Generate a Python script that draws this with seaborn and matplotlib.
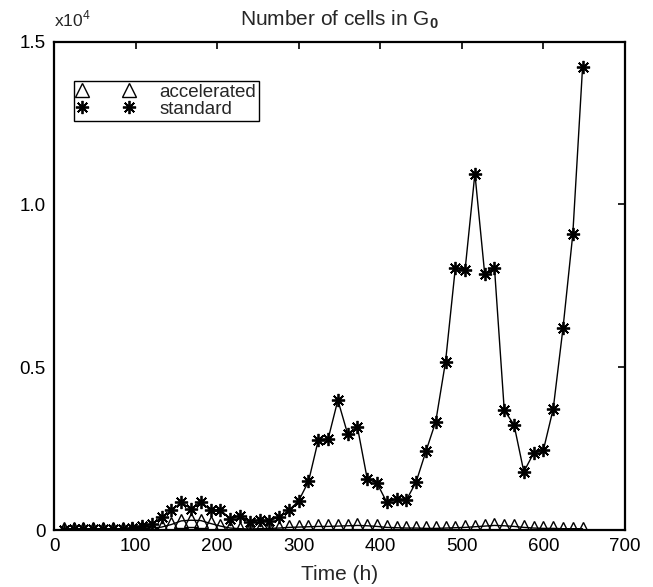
#!/usr/bin/env python3
"""Number of cells in G0 over time, accelerated vs standard schedule."""

import pandas as pd
import seaborn as sns
import matplotlib.pyplot as plt
from matplotlib.lines import Line2D
from matplotlib.ticker import FuncFormatter

# sampling times (h)
time_h = [12, 24, 36, 48, 60, 72, 84, 96, 108, 120,
          132, 144, 156, 168, 180, 192, 204, 216, 228, 240,
          252, 264, 276, 288, 300, 312, 324, 336, 348, 360,
          372, 384, 396, 408, 420, 432, 444, 456, 468, 480,
          492, 504, 516, 528, 540, 552, 564, 576, 588, 600,
          612, 624, 636, 648]

# number of cells in G0
standard = [0, 20, 30, 20, 30, 30, 40, 50, 110, 190,
            390, 600, 850, 650, 870, 600, 620, 340, 440, 240,
            310, 290, 390, 600, 900, 1490, 2760, 2790, 3990, 2950,
            3160, 1570, 1440, 850, 950, 920, 1480, 2420, 3330, 5170,
            8050, 8000, 10950, 7870, 8050, 3680, 3230, 1790, 2360, 2460,
            3720, 6200, 9080, 14220]

accelerated = [30, 40, 30, 40, 30, 40, 30, 40, 50, 60,
               90, 170, 280, 300, 290, 200, 120, 60, 40, 30,
               40, 50, 60, 80, 90, 100, 110, 110, 120, 130,
               140, 130, 110, 80, 70, 60, 60, 50, 50, 60,
               70, 80, 100, 120, 140, 130, 110, 80, 60, 50,
               50, 40, 40, 40]

series_names = ["accelerated", "standard"]

df = pd.DataFrame({"time": time_h, "accelerated": accelerated, "standard": standard})

sns.set_theme(style="white")
plt.rcParams["font.family"] = ["Liberation Sans", "DejaVu Sans"]
plt.rcParams["mathtext.fontset"] = "custom"
plt.rcParams["mathtext.rm"] = "Liberation Sans"
plt.rcParams["mathtext.bf"] = "Liberation Sans:bold"

STAR = (8, 2, 0)

fig = plt.figure(figsize=(6.53, 5.87), dpi=100)
ax = fig.add_axes([0.0827, 0.0971, 0.8744, 0.8319])

sns.lineplot(data=df, x="time", y="standard", ax=ax, color="black", lw=1.0,
             marker=STAR, ms=9.5, mew=1.3, mec="black")
sns.lineplot(data=df, x="time", y="accelerated", ax=ax, color="black", lw=1.0,
             marker="^", ms=9.5, mew=1.0, mec="black", mfc="none")

ax.set_xlim(0, 700)
ax.set_ylim(0, 15000)
ax.set_xticks(range(0, 701, 100))
ax.set_yticks([0, 5000, 10000, 15000])
ax.yaxis.set_major_formatter(FuncFormatter(lambda v, _: "0" if v == 0 else f"{v / 1e4:.1f}"))

ax.tick_params(direction="in", length=5, width=1.2, top=True, right=True,
               labelsize=13.5, colors="black", pad=6)
for sp in ax.spines.values():
    sp.set_color("black")
    sp.set_linewidth(1.6)

ax.set_xlabel("Time (h)", fontsize=15, labelpad=7)
ax.set_ylabel("")
ax.set_title(r"Number of cells in G$_\mathbf{0}$", fontsize=15, pad=12)
ax.text(0.0, 1.025, r"x10$^4$", transform=ax.transAxes, fontsize=12.5,
        ha="left", va="bottom")

handles = [
    Line2D([], [], ls="none", marker="^", ms=10, mew=1.0, mec="black", mfc="none"),
    Line2D([], [], ls="none", marker=STAR, ms=9.5, mew=1.3, mec="black"),
]
leg = ax.legend(handles, series_names, loc="upper left", bbox_to_anchor=(0.035, 0.92),
                borderaxespad=0, numpoints=2, handlelength=3.1, handletextpad=1.3,
                fontsize=13.5, frameon=True, fancybox=False, framealpha=1,
                edgecolor="black", borderpad=0.15, labelspacing=0.0)
leg.get_frame().set_linewidth(1.0)

fig.savefig("out.png", dpi=100)
